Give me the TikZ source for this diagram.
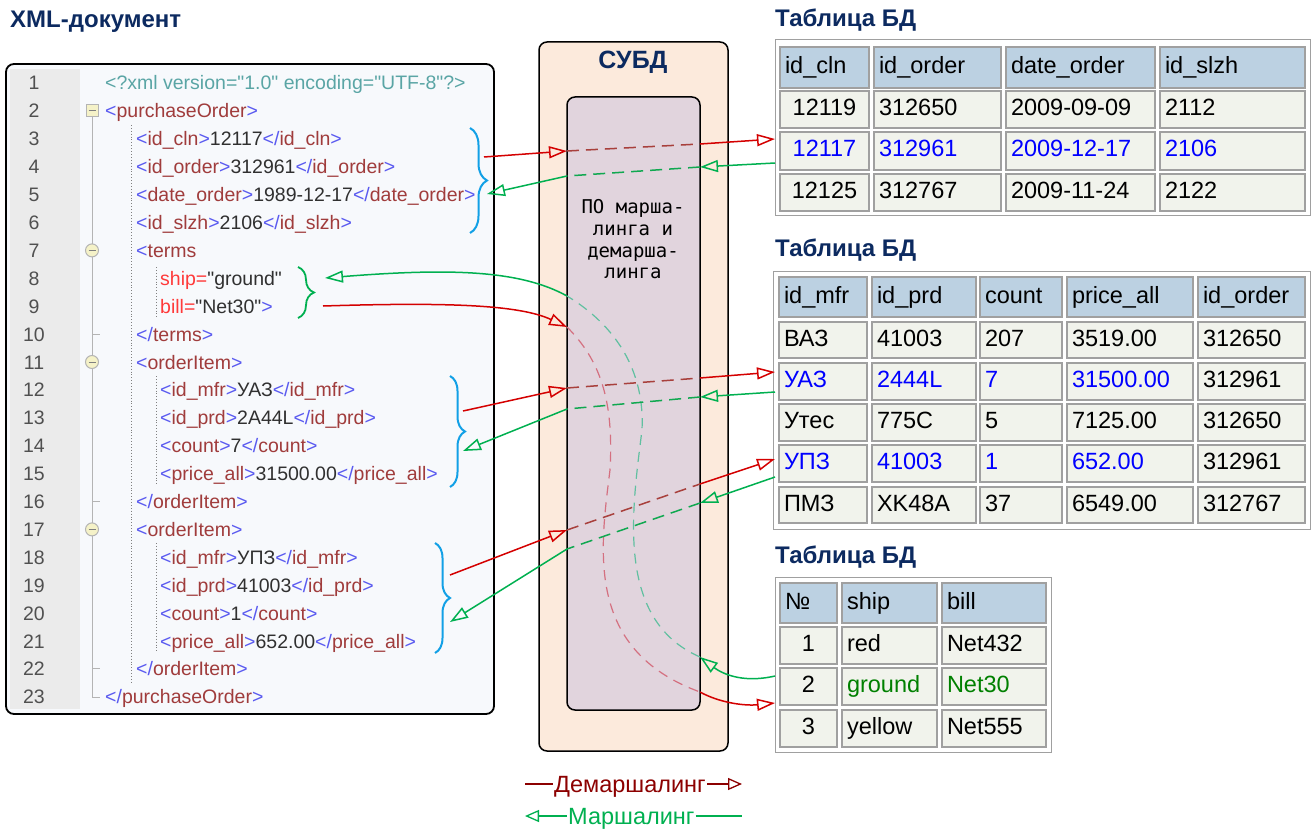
\documentclass[tikz,border=0pt]{standalone}
\usepackage{fontspec}
\setmainfont{Liberation Sans}
\newfontfamily\codefnt{Liberation Sans}[Ligatures=TeXOff]
\newfontfamily\monofnt{DejaVu Sans Mono}
\usetikzlibrary{arrows.meta,decorations.pathreplacing}

\definecolor{navy}{HTML}{0C2A60}
\definecolor{xbr}{HTML}{5A5AF0}
\definecolor{xtag}{HTML}{A03C3C}
\definecolor{xval}{HTML}{303030}
\definecolor{xdecl}{HTML}{5AA5A5}
\definecolor{xattr}{HTML}{FF3A3A}
\definecolor{lnumc}{HTML}{505050}
\definecolor{gutter}{HTML}{EBEBEB}
\definecolor{xmlbg}{HTML}{F7F9FC}
\definecolor{bracecol}{HTML}{12A0E6}
\definecolor{dbms}{HTML}{FCEADC}
\definecolor{innerc}{HTML}{E1D4DD}
\definecolor{hdr}{HTML}{BCD1E2}
\definecolor{cellbg}{HTML}{F1F3EC}
\definecolor{cellbd}{HTML}{A0A0A0}
\definecolor{arrred}{HTML}{D40000}
\definecolor{dashred}{HTML}{A8403C}
\definecolor{curvred}{HTML}{D47080}
\definecolor{arrgreen}{HTML}{00B050}
\definecolor{dashgreen}{HTML}{10A850}
\definecolor{curvgreen}{HTML}{60C0A0}
\definecolor{legred}{HTML}{8C0000}
\definecolor{datablue}{HTML}{0000FF}
\definecolor{datagreen}{HTML}{008000}
\definecolor{foldfill}{HTML}{F5F2C8}
\definecolor{foldline}{HTML}{B4B4B4}

\newcommand\XO[1]{\textcolor{xbr}{<}\textcolor{xtag}{#1}\textcolor{xbr}{>}}
\newcommand\XC[1]{\textcolor{xbr}{</}\textcolor{xtag}{#1}\textcolor{xbr}{>}}
\newcommand\XV[1]{\textcolor{xval}{#1}}

\newcommand\TCell[7]{%
  \pgfmathsetmacro\tcW{#4-#2}\pgfmathsetmacro\tcH{#5-#3}\pgfmathsetmacro\tcT{#4-#2-10}%
  \pgfmathsetmacro\tcX{(#2+#4)/2}\pgfmathsetmacro\tcY{(#3+#5)/2}%
  \node[#6, minimum width=\tcW pt, minimum height=\tcH pt, text width=\tcT pt] (#1) at (\tcX,\tcY) {#7};}

\begin{document}
\begin{tikzpicture}[x=1pt,y=-1pt,
  title/.style={font=\fontsize{24}{28}\selectfont\bfseries, text=navy, inner sep=0pt},
  code/.style={font=\codefnt\fontsize{19.5}{23}\selectfont, inner sep=0pt, anchor=base west},
  lnum/.style={font=\fontsize{19.5}{23}\selectfont, text=lnumc, inner sep=0pt, anchor=base},
  cellbox/.style={draw=cellbd, line width=1.3pt, inner xsep=5pt, inner ysep=0pt,
     font=\fontsize{23.5}{27}\selectfont, text height=17pt, text depth=5pt, align=left},
  hcell/.style={cellbox, fill=hdr},
  dcell/.style={cellbox, fill=cellbg},
  tframe/.style={draw=cellbd, line width=1pt, fill=white},
  bracest/.style={draw=bracecol, line width=2pt, decorate},
  sred/.style={draw=arrred, line width=1.5pt},
  sgreen/.style={draw=arrgreen, line width=1.5pt},
  dred/.style={draw=dashred, line width=1.5pt, dash pattern=on 12pt off 7pt},
  dgreen/.style={draw=dashgreen, line width=1.5pt, dash pattern=on 12pt off 7pt},
  cred/.style={draw=curvred, line width=1.2pt, dash pattern=on 10pt off 7pt},
  cgreen/.style={draw=curvgreen, line width=1.2pt, dash pattern=on 10pt off 7pt},
  arr/.style={-{Triangle[open,length=18pt,width=12pt]}},
  legtxt/.style={font=\fontsize{23.5}{27}\selectfont, inner sep=1pt, text height=17pt, text depth=0pt}
]
\path[use as bounding box] (0,0) rectangle (1314,832);

% ---------- XML document ----------
\node[title, anchor=west] (xmltitle) at (10,22) {XML-документ};
\path[draw=black, line width=1.8pt, fill=xmlbg, rounded corners=8pt] (6,64) rectangle (494,714);
\path[fill=gutter] (10,69) rectangle (80,709);

\foreach \i in {1,...,23}{
  \pgfmathsetmacro\lnY{90+(\i-1)*27.9}
  \node[lnum] (ln\i) at (34,\lnY) {\i};
}

% fold tree
\draw[foldline, line width=1pt] (92,111) -- (92,697) -- (100,697);
\foreach \yy in {334.1,501.5,668.9}{\draw[foldline, line width=1pt] (92,\yy) -- (100,\yy);}
\path[fill=foldfill, draw=foldline, line width=1pt] (86,105) rectangle (98,117);
\draw[gray, line width=1pt] (88.5,111) -- (95.5,111);
\foreach \yy in {250.4,362.0,529.4}{
  \path[fill=foldfill, draw=foldline, line width=1pt] (92,\yy) circle (6.5);
  \draw[gray, line width=1pt] (88.5,\yy) -- (95.5,\yy);
}
% dotted guides
\draw[gray, line width=0.9pt, dotted] (131,125) -- (131,682);
\draw[gray, line width=0.9pt, dotted] (156,267) -- (156,318);
\draw[gray, line width=0.9pt, dotted] (156,376) -- (156,486);
\draw[gray, line width=0.9pt, dotted] (156,543) -- (156,653);

% code lines
\node[code] (c1) at (105,90) {\textcolor{xdecl}{<?xml version="1.0" encoding="UTF-8"?>}};
\node[code] (c2) at (105,117.9) {\XO{purchaseOrder}};
\node[code] (c3) at (136,145.8) {\XO{id\_cln}\XV{12117}\XC{id\_cln}};
\node[code] (c4) at (136,173.7) {\XO{id\_order}\XV{312961}\XC{id\_order}};
\node[code] (c5) at (136,201.6) {\XO{date\_order}\XV{1989-12-17}\XC{date\_order}};
\node[code] (c6) at (136,229.5) {\XO{id\_slzh}\XV{2106}\XC{id\_slzh}};
\node[code] (c7) at (136,257.4) {\textcolor{xbr}{<}\textcolor{xtag}{terms}};
\node[code] (c8) at (160,285.3) {\textcolor{xattr}{ship=}\XV{"ground"}};
\node[code] (c9) at (160,313.2) {\textcolor{xattr}{bill=}\XV{"Net30"}\textcolor{xbr}{>}};
\node[code] (c10) at (136,341.1) {\XC{terms}};
\node[code] (c11) at (136,369.0) {\XO{orderItem}};
\node[code] (c12) at (160,396.9) {\XO{id\_mfr}\XV{УАЗ}\XC{id\_mfr}};
\node[code] (c13) at (160,424.8) {\XO{id\_prd}\XV{2A44L}\XC{id\_prd}};
\node[code] (c14) at (160,452.7) {\XO{count}\XV{7}\XC{count}};
\node[code] (c15) at (160,480.6) {\XO{price\_all}\XV{31500.00}\XC{price\_all}};
\node[code] (c16) at (136,508.5) {\XC{orderItem}};
\node[code] (c17) at (136,536.4) {\XO{orderItem}};
\node[code] (c18) at (160,564.3) {\XO{id\_mfr}\XV{УПЗ}\XC{id\_mfr}};
\node[code] (c19) at (160,592.2) {\XO{id\_prd}\XV{41003}\XC{id\_prd}};
\node[code] (c20) at (160,620.1) {\XO{count}\XV{1}\XC{count}};
\node[code] (c21) at (160,648.0) {\XO{price\_all}\XV{652.00}\XC{price\_all}};
\node[code] (c22) at (136,675.9) {\XC{orderItem}};
\node[code] (c23) at (105,703.8) {\XC{purchaseOrder}};

% braces
\draw[bracest, decoration={brace, amplitude=17pt}] (470,128) -- (470,233);
\draw[bracest, decoration={brace, amplitude=15pt}] (450,376) -- (450,487);
\draw[bracest, decoration={brace, amplitude=15pt}] (435,543) -- (435,653);
\draw[bracest, draw=arrgreen, line width=1.8pt, decoration={brace, amplitude=16pt}] (298,267) -- (298,318);

% ---------- DBMS ----------
\path[draw=black, line width=1.5pt, fill=dbms, rounded corners=8pt] (539,42) rectangle (728,751);
\node[title, font=\fontsize{25}{28}\selectfont\bfseries] (dbmstitle) at (633,62) {СУБД};
\path[draw=black, line width=1.5pt, fill=innerc, rounded corners=8pt] (567,97) rectangle (700,710);
\node[font=\monofnt\fontsize{19}{21.7}\selectfont, align=center, inner sep=0pt] (soft) at (633,239.5)
  {ПО марша-\\линга и\\демарша-\\линга};

% ---------- Table 1 ----------
\node[title, anchor=west] (tt1) at (775,20) {Таблица БД};
\path[tframe] (775,40) rectangle (1310,215);
\TCell{t1h1}{780}{47}{869}{88}{hcell}{id\_cln}
\TCell{t1h2}{874}{47}{1001}{88}{hcell}{id\_order}
\TCell{t1h3}{1006}{47}{1155}{88}{hcell}{date\_order}
\TCell{t1h4}{1160}{47}{1305}{88}{hcell}{id\_slzh}
\TCell{t1a1}{780}{91}{869}{128}{dcell,align=center}{12119}
\TCell{t1a2}{874}{91}{1001}{128}{dcell}{312650}
\TCell{t1a3}{1006}{91}{1155}{128}{dcell}{2009-09-09}
\TCell{t1a4}{1160}{91}{1305}{128}{dcell}{2112}
\TCell{t1b1}{780}{132}{869}{170}{dcell,align=center,text=datablue}{12117}
\TCell{t1b2}{874}{132}{1001}{170}{dcell,text=datablue}{312961}
\TCell{t1b3}{1006}{132}{1155}{170}{dcell,text=datablue}{2009-12-17}
\TCell{t1b4}{1160}{132}{1305}{170}{dcell,text=datablue}{2106}
\TCell{t1c1}{780}{174}{869}{211}{dcell,align=center}{12125}
\TCell{t1c2}{874}{174}{1001}{211}{dcell}{312767}
\TCell{t1c3}{1006}{174}{1155}{211}{dcell}{2009-11-24}
\TCell{t1c4}{1160}{174}{1305}{211}{dcell}{2122}

% ---------- Table 2 ----------
\node[title, anchor=west] (tt2) at (775,250) {Таблица БД};
\path[tframe] (773,271) rectangle (1310,529);
\TCell{t2h1}{779}{277}{867}{317}{hcell}{id\_mfr}
\TCell{t2h2}{872}{277}{976}{317}{hcell}{id\_prd}
\TCell{t2h3}{980}{277}{1062}{317}{hcell}{count}
\TCell{t2h4}{1067}{277}{1193}{317}{hcell}{price\_all}
\TCell{t2h5}{1198}{277}{1305}{317}{hcell}{id\_order}
\TCell{t2a1}{779}{322}{867}{358}{dcell}{ВАЗ}
\TCell{t2a2}{872}{322}{976}{358}{dcell}{41003}
\TCell{t2a3}{980}{322}{1062}{358}{dcell}{207}
\TCell{t2a4}{1067}{322}{1193}{358}{dcell}{3519.00}
\TCell{t2a5}{1198}{322}{1305}{358}{dcell}{312650}
\TCell{t2b1}{779}{363}{867}{400}{dcell,text=datablue}{УАЗ}
\TCell{t2b2}{872}{363}{976}{400}{dcell,text=datablue}{2444L}
\TCell{t2b3}{980}{363}{1062}{400}{dcell,text=datablue}{7}
\TCell{t2b4}{1067}{363}{1193}{400}{dcell,text=datablue}{31500.00}
\TCell{t2b5}{1198}{363}{1305}{400}{dcell}{312961}
\TCell{t2c1}{779}{404}{867}{441}{dcell}{Утес}
\TCell{t2c2}{872}{404}{976}{441}{dcell}{775C}
\TCell{t2c3}{980}{404}{1062}{441}{dcell}{5}
\TCell{t2c4}{1067}{404}{1193}{441}{dcell}{7125.00}
\TCell{t2c5}{1198}{404}{1305}{441}{dcell}{312650}
\TCell{t2d1}{779}{445}{867}{482}{dcell,text=datablue}{УПЗ}
\TCell{t2d2}{872}{445}{976}{482}{dcell,text=datablue}{41003}
\TCell{t2d3}{980}{445}{1062}{482}{dcell,text=datablue}{1}
\TCell{t2d4}{1067}{445}{1193}{482}{dcell,text=datablue}{652.00}
\TCell{t2d5}{1198}{445}{1305}{482}{dcell}{312961}
\TCell{t2e1}{779}{487}{867}{523}{dcell}{ПМЗ}
\TCell{t2e2}{872}{487}{976}{523}{dcell}{XK48A}
\TCell{t2e3}{980}{487}{1062}{523}{dcell}{37}
\TCell{t2e4}{1067}{487}{1193}{523}{dcell}{6549.00}
\TCell{t2e5}{1198}{487}{1305}{523}{dcell}{312767}

% ---------- Table 3 ----------
\node[title, anchor=west] (tt3) at (775,557) {Таблица БД};
\path[tframe] (775,577) rectangle (1051,752);
\TCell{t3h1}{780}{583}{837}{623}{hcell}{№}
\TCell{t3h2}{842}{583}{937}{623}{hcell}{ship}
\TCell{t3h3}{942}{583}{1046}{623}{hcell}{bill}
\TCell{t3a1}{780}{627}{837}{664}{dcell,align=center}{1}
\TCell{t3a2}{842}{627}{937}{664}{dcell}{red}
\TCell{t3a3}{942}{627}{1046}{664}{dcell}{Net432}
\TCell{t3b1}{780}{668}{837}{705}{dcell,align=center}{2}
\TCell{t3b2}{842}{668}{937}{705}{dcell,text=datagreen}{ground}
\TCell{t3b3}{942}{668}{1046}{705}{dcell,text=datagreen}{Net30}
\TCell{t3c1}{780}{710}{837}{747}{dcell,align=center}{3}
\TCell{t3c2}{842}{710}{937}{747}{dcell}{yellow}
\TCell{t3c3}{942}{710}{1046}{747}{dcell}{Net555}

% ---------- connector points ----------
\coordinate (a1s) at (484,157); \coordinate (a1i) at (567,151);
\coordinate (a1o) at (700,144); \coordinate (a1e) at (775,139);
\coordinate (a2s) at (775,163); \coordinate (a2o) at (700,167);
\coordinate (a2i) at (567,176); \coordinate (a2e) at (487,194);
\coordinate (a3s) at (463,411); \coordinate (a3i) at (567,388);
\coordinate (a3o) at (700,378); \coordinate (a3e) at (775,372);
\coordinate (a4s) at (775,392); \coordinate (a4o) at (700,397);
\coordinate (a4i) at (567,409); \coordinate (a4e) at (463,451);
\coordinate (a5s) at (450,575); \coordinate (a5i) at (567,530);
\coordinate (a5o) at (700,484); \coordinate (a5e) at (775,459);
\coordinate (a6s) at (775,477); \coordinate (a6o) at (700,503);
\coordinate (a6i) at (567,549); \coordinate (a6e) at (450,622);
\coordinate (r7s) at (323,306); \coordinate (r7i) at (567,327);
\coordinate (r7m) at (610,470); \coordinate (r7o) at (700,692);
\coordinate (r7e) at (775,703);
\coordinate (g8s) at (775,676); \coordinate (g8o) at (700,657);
\coordinate (g8m) at (642,430); \coordinate (g8i) at (567,296);
\coordinate (g8e) at (325,278);

% curved dashed (behind straight ones)
\draw[cred] (r7i) .. controls (600,360) and (614,400) .. (r7m)
               .. controls (600,550) and (585,650) .. (r7o);
\draw[cgreen] (g8o) .. controls (615,620) and (632,510) .. (g8m)
               .. controls (645,370) and (615,325) .. (g8i);

% straight connectors
\draw[sred, arr] (a1s) -- (a1i); \draw[dred] (a1i) -- (a1o); \draw[sred, arr] (a1o) -- (a1e);
\draw[sgreen, arr] (a2s) -- (a2o); \draw[dgreen] (a2o) -- (a2i); \draw[sgreen, arr] (a2i) -- (a2e);
\draw[sred, arr] (a3s) -- (a3i); \draw[dred] (a3i) -- (a3o); \draw[sred, arr] (a3o) -- (a3e);
\draw[sgreen, arr] (a4s) -- (a4o); \draw[dgreen] (a4o) -- (a4i); \draw[sgreen, arr] (a4i) -- (a4e);
\draw[sred, arr] (a5s) -- (a5i); \draw[dred] (a5i) -- (a5o); \draw[sred, arr] (a5o) -- (a5e);
\draw[sgreen, arr] (a6s) -- (a6o); \draw[dgreen] (a6o) -- (a6i); \draw[sgreen, arr] (a6i) -- (a6e);

% curved solid parts
\draw[sred, arr] (r7s) .. controls (450,302) and (520,305) .. (r7i);
\draw[sred, arr] (r7o) .. controls (720,703) and (745,706) .. (r7e);
\draw[sgreen, arr] (g8s) .. controls (740,684) and (720,672) .. (g8o);
\draw[sgreen, arr] (g8i) .. controls (520,270) and (450,268) .. (g8e);

% ---------- legend ----------
\node[legtxt, text=legred, anchor=west] (legd) at (553,784) {Демаршалинг};
\coordinate (legd0) at (525,784); \coordinate (legd1) at (742,784);
\draw[legred, line width=1.3pt] (legd0) -- (legd.west);
\draw[legred, line width=1.3pt, -{Triangle[open,length=14pt,width=12pt]}] (legd.east) -- (legd1);
\node[legtxt, text=arrgreen, anchor=west] (legm) at (567,816) {Маршалинг};
\coordinate (legm0) at (525,816); \coordinate (legm1) at (742,816);
\draw[arrgreen, line width=1.3pt, -{Triangle[open,length=14pt,width=12pt]}] (legm.west) -- (legm0);
\draw[arrgreen, line width=1.3pt] (legm.east) -- (legm1);
\end{tikzpicture}
\end{document}
